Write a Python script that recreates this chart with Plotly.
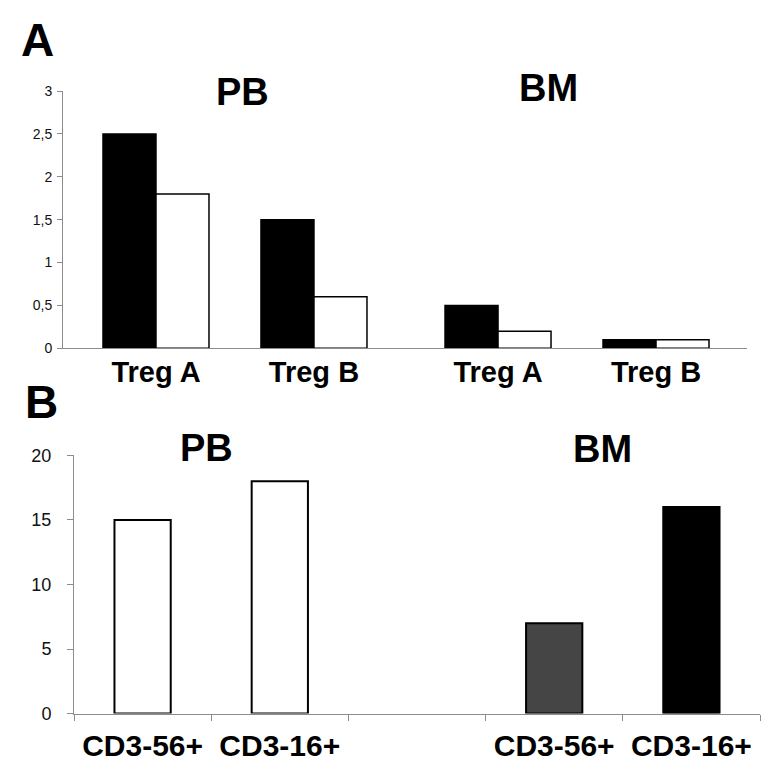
import plotly.graph_objects as go

# ---------------- data ----------------
# Panel A
top_labels = ["Treg A", "Treg B", "Treg A", "Treg B"]
top_groups = ["PB", "PB", "BM", "BM"]
top_black = [2.5, 1.5, 0.5, 0.1]
top_white = [1.8, 0.6, 0.2, 0.1]
top_yticks = [0, 0.5, 1, 1.5, 2, 2.5, 3]

# Panel B
bot_labels = ["CD3-56+", "CD3-16+", "", "CD3-56+", "CD3-16+"]
bot_values = [15, 18, None, 7, 16]
bot_yticks = [0, 5, 10, 15, 20]

# ---------------- layout helpers ----------------
W, H = 776, 777
OFF = 8  # page body margin
FONT = "Arial, Liberation Sans, Arimo, sans-serif"


def px_x(p):
    return (p - OFF) / W


def px_y(p):
    return 1 - (p - OFF) / H


# top x positions: a wider gap between the PB pair and the BM pair
gap = 0.165
top_pos = [i + (gap if top_groups[i] == "BM" else 0) for i in range(len(top_labels))]
bot_pos = list(range(len(bot_labels)))
bot_colors = {0: "white", 1: "white", 3: "#454545", 4: "black"}

fig = go.Figure()

fig.add_trace(go.Bar(
    x=top_pos, y=top_black, xaxis="x", yaxis="y",
    marker=dict(color="black", line=dict(color="black", width=1.5)),
    showlegend=False, hoverinfo="skip"))
fig.add_trace(go.Bar(
    x=top_pos, y=top_white, xaxis="x", yaxis="y",
    marker=dict(color="white", line=dict(color="black", width=1.5)),
    showlegend=False, hoverinfo="skip"))

bx = [bot_pos[i] for i, v in enumerate(bot_values) if v is not None]
by = [v for v in bot_values if v is not None]
bc = [bot_colors[i] for i, v in enumerate(bot_values) if v is not None]
fig.add_trace(go.Bar(
    x=bx, y=by, xaxis="x2", yaxis="y2", width=0.41,
    marker=dict(color=bc, line=dict(color="black", width=2)),
    showlegend=False, hoverinfo="skip"))

axis_gray = "#8c8c8c"

fig.update_layout(
    width=W, height=H,
    margin=dict(l=0, r=0, t=0, b=0),
    paper_bgcolor="white", plot_bgcolor="white",
    separators=", ",
    barmode="group", bargap=0.329, bargroupgap=0,
    font=dict(family=FONT, color="black"),
    xaxis=dict(
        domain=[px_x(63), px_x(747)], anchor="y",
        range=[-(156 - 63) / 158, 3.165 + (747 - 656) / 158],
        tickmode="array", tickvals=top_pos, ticktext=top_labels,
        ticks="", showline=True, linecolor=axis_gray, linewidth=1,
        showgrid=False, zeroline=False,
        tickfont=dict(size=29, family=FONT, color="black", weight="bold"),
        ticklabelstandoff=-2,
    ),
    yaxis=dict(
        domain=[px_y(347), px_y(83)], anchor="x",
        range=[0, 3], tickmode="array", tickvals=top_yticks,
        ticks="outside", ticklen=5, tickcolor=axis_gray,
        showline=True, linecolor=axis_gray, linewidth=1,
        showgrid=False, zeroline=False,
        tickfont=dict(size=14, family=FONT, color="#111"),
        ticklabelstandoff=2,
    ),
    xaxis2=dict(
        domain=[px_x(74), px_x(760)], anchor="y2",
        range=[-0.5, len(bot_labels) - 0.5],
        tickmode="array", tickvals=bot_pos, ticktext=bot_labels,
        ticks="", showline=True, linecolor=axis_gray, linewidth=1,
        showgrid=False, zeroline=False,
        minor=dict(tickmode="array",
                   tickvals=[p - 0.5 for p in bot_pos] + [bot_pos[-1] + 0.5],
                   ticks="outside", ticklen=6, tickcolor=axis_gray, showgrid=False),
        tickfont=dict(size=30, family=FONT, color="black", weight="bold"),
        ticklabelstandoff=5,
    ),
    yaxis2=dict(
        domain=[px_y(722), px_y(457)], anchor="x2",
        range=[0, 20], tickmode="array", tickvals=bot_yticks,
        ticks="outside", ticklen=6, tickcolor=axis_gray,
        showline=True, linecolor=axis_gray, linewidth=1,
        showgrid=False, zeroline=False,
        tickfont=dict(size=18, family=FONT, color="#111"),
        ticklabelstandoff=12,
    ),
)

annotations = [
    ("A", 37, 31, 46),
    ("B", 41, 402, 46),
    ("PB", 243, 84, 38),
    ("BM", 548, 80, 38),
    ("PB", 207, 449, 38),
    ("BM", 602, 450, 38),
]
for text, x, y, size in annotations:
    fig.add_annotation(
        text=text, xref="paper", yref="paper", x=px_x(x), y=px_y(y),
        xanchor="center", yanchor="middle", showarrow=False,
        font=dict(size=size, family=FONT, color="black", weight="bold"))

fig.write_html("out.html")
